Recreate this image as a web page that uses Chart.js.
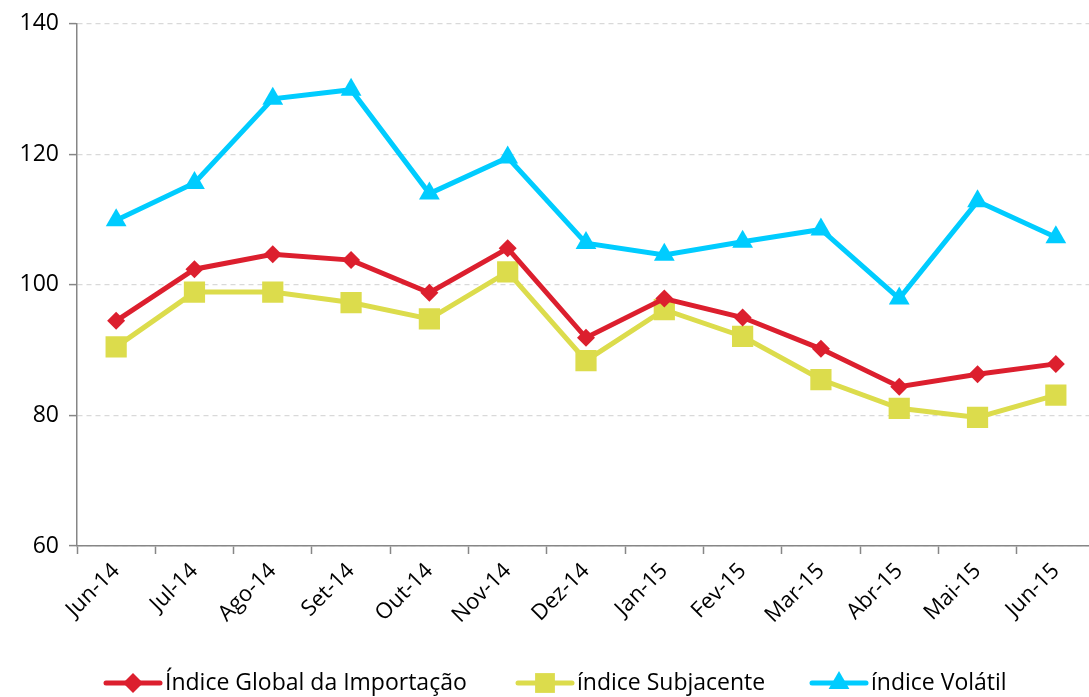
<!DOCTYPE html>
<html>
<head>
<meta charset="utf-8">
<script src="https://cdn.jsdelivr.net/npm/chart.js@4.4.0/dist/chart.umd.min.js"></script>
<style>
  html, body { margin: 0; padding: 0; background: #fff; overflow: hidden; }
  #wrap { width: 1110px; height: 697px; }
</style>
</head>
<body>
<div id="wrap"><canvas id="myChart" width="1110" height="697"></canvas></div>
<script>
const categories = ['Jun-14', 'Jul-14', 'Ago-14', 'Set-14', 'Out-14', 'Nov-14', 'Dez-14',
  'Jan-15', 'Fev-15', 'Mar-15', 'Abr-15', 'Mai-15', 'Jun-15'];
const globalIdx = [94.5, 102.4, 104.7, 103.8, 98.8, 105.6, 91.9, 97.9, 95.0, 90.2, 84.4, 86.3, 87.9];
const subjacente = [90.5, 98.9, 98.9, 97.3, 94.8, 102.0, 88.4, 96.2, 92.1, 85.5, 81.1, 79.7, 83.1];
const volatil = [109.9, 115.6, 128.5, 129.9, 114.0, 119.5, 106.4, 104.6, 106.6, 108.5, 97.9, 112.8, 107.3];
const yTicks = [60, 80, 100, 120, 140];

const FONT = '"Open Sans", Lato, sans-serif';
const RED = '#dc1f2e';
const YELLOW = '#dcdc4c';
const CYAN = '#00ccff';

// legend drawn as line + marker, like the spreadsheet legend
const lineLegend = {
  id: 'lineLegend',
  afterDraw(chart) {
    const ctx = chart.ctx;
    const y = 683;
    const items = [
      { x: 106, ds: chart.data.datasets[0] },
      { x: 518, ds: chart.data.datasets[1] },
      { x: 812, ds: chart.data.datasets[2] }
    ];
    ctx.save();
    items.forEach(it => {
      ctx.strokeStyle = it.ds.borderColor;
      ctx.lineWidth = 5;
      ctx.lineCap = 'round';
      ctx.beginPath();
      ctx.moveTo(it.x, y);
      ctx.lineTo(it.x + 54, y);
      ctx.stroke();
      ctx.fillStyle = it.ds.pointBackgroundColor;
      ctx.strokeStyle = it.ds.pointBorderColor;
      Chart.helpers.drawPoint(ctx, {
        pointStyle: it.ds.pointStyle,
        radius: it.ds.legendRadius,
        borderWidth: 0
      }, it.x + 27, y);
      ctx.fillStyle = '#000';
      ctx.font = '23px ' + FONT;
      ctx.textBaseline = 'middle';
      ctx.textAlign = 'left';
      ctx.fillText(it.ds.label, it.x + 59, y);
    });
    ctx.restore();
  }
};

const ctx = document.getElementById('myChart').getContext('2d');
new Chart(ctx, {
  type: 'line',
  data: {
    labels: categories,
    datasets: [
      {
        label: 'Índice Global da Importação',
        data: globalIdx,
        borderColor: RED,
        backgroundColor: RED,
        pointBackgroundColor: RED,
        pointBorderColor: RED,
        pointStyle: 'rectRot',
        pointRadius: 9,
        legendRadius: 10,
        pointBorderWidth: 0,
        borderWidth: 5,
        tension: 0
      },
      {
        label: 'índice Subjacente',
        data: subjacente,
        borderColor: YELLOW,
        backgroundColor: YELLOW,
        pointBackgroundColor: YELLOW,
        pointBorderColor: YELLOW,
        pointStyle: 'rect',
        pointRadius: 15,
        legendRadius: 14,
        pointBorderWidth: 0,
        borderWidth: 5,
        tension: 0
      },
      {
        label: 'índice Volátil',
        data: volatil,
        borderColor: CYAN,
        backgroundColor: CYAN,
        pointBackgroundColor: CYAN,
        pointBorderColor: CYAN,
        pointStyle: 'triangle',
        pointRadius: 12,
        legendRadius: 12,
        pointBorderWidth: 0,
        borderWidth: 5,
        tension: 0
      }
    ]
  },
  options: {
    responsive: false,
    animation: false,
    layout: { padding: { left: 0, right: 11, top: 22, bottom: 0 } },
    plugins: {
      legend: { display: false },
      tooltip: { enabled: false }
    },
    scales: {
      x: {
        offset: true,
        grid: {
          offset: true,
          drawOnChartArea: false,
          drawTicks: true,
          tickLength: 8,
          tickColor: '#868686',
          tickWidth: 1.5
        },
        border: { color: '#868686', width: 1.5 },
        ticks: {
          color: '#000',
          font: { family: FONT, size: 22 },
          minRotation: 45,
          maxRotation: 45,
          padding: 4
        },
        afterFit(scale) { scale.height = 151; }
      },
      y: {
        min: 60,
        max: 140,
        afterBuildTicks(scale) { scale.ticks = yTicks.map(v => ({ value: v })); },
        grid: {
          color: '#d9d9d9',
          lineWidth: 1.2,
          tickBorderDash: [],
          tickColor: '#868686',
          tickWidth: 1.5,
          tickLength: 8
        },
        border: { color: '#868686', width: 1.5, dash: [5, 4] },
        ticks: {
          color: '#000',
          font: { family: FONT, size: 23 },
          padding: 10
        },
        afterFit(scale) { scale.width = 77; }
      }
    }
  },
  plugins: [lineLegend]
});
</script>
</body>
</html>
